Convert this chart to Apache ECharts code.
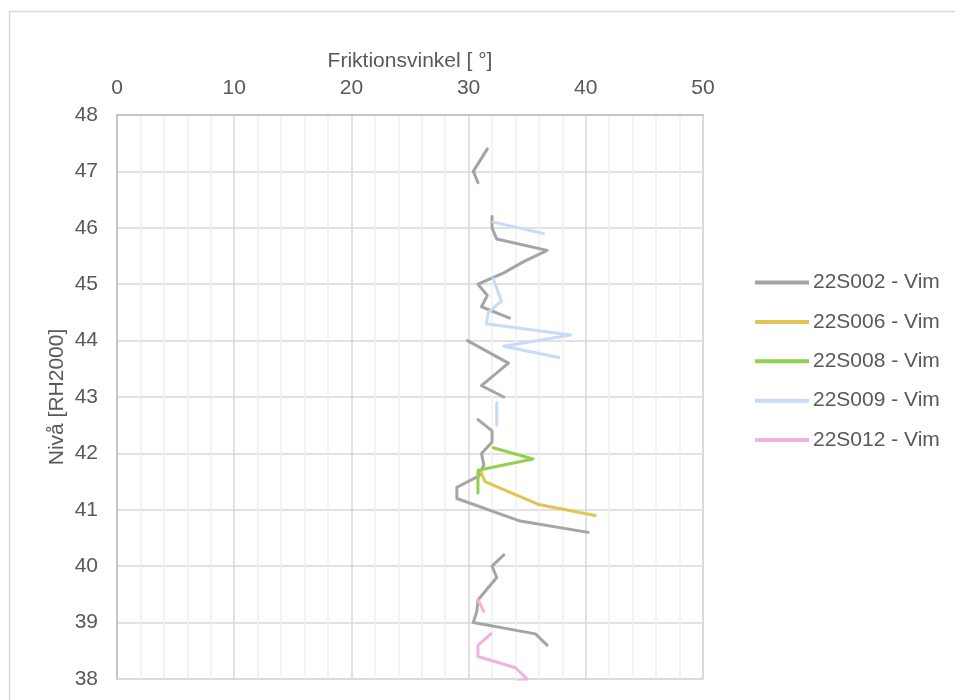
<!DOCTYPE html>
<html>
<head>
<meta charset="utf-8">
<style>
  html, body { margin: 0; padding: 0; background: #ffffff; }
  #chart { width: 955px; height: 700px; }
</style>
<script src="https://cdn.jsdelivr.net/npm/echarts@6/dist/echarts.min.js"></script>
</head>
<body>
<div id="chart"></div>
<script>
// Friction angle profiles versus level. null marks a break in a profile.
const xTicks = [0, 10, 20, 30, 40, 50];
const yTicks = [38, 39, 40, 41, 42, 43, 44, 45, 46, 47, 48];

const seriesNames = ['22S002 - Vim', '22S006 - Vim', '22S008 - Vim', '22S009 - Vim', '22S012 - Vim'];
const seriesColors = ['#a5a5a5', '#e2c452', '#92d050', '#c9dbfa', '#f3b2de'];

// 22S002
const level002 = [47.4, 47.0, 46.8, null,
  46.2, 46.0, 45.8, 45.6, 45.4, 45.2, 45.0, 44.8, 44.6, 44.4, null,
  44.0, 43.6, 43.2, 43.0, null,
  42.6, 42.4, 42.2, 42.0, 41.8, 41.6, 41.4, 41.2, 40.8, 40.6, null,
  40.2, 40.0, 39.8, 39.4, 39.2, 39.0, 38.8, 38.6];
const angle002 = [31.6, 30.4, 30.8, null,
  32.0, 32.0, 32.4, 36.7, 34.7, 33.0, 30.8, 31.6, 31.1, 33.5, null,
  29.9, 33.4, 31.1, 33.0, null,
  30.8, 32.0, 32.0, 31.1, 31.3, 30.9, 29.0, 29.0, 34.4, 40.2, null,
  33.0, 32.0, 32.4, 30.8, 30.7, 30.4, 35.7, 36.7];

// 22S006
const level006 = [41.7, 41.5, 41.1, 40.9];
const angle006 = [31.0, 31.4, 35.9, 40.8];

// 22S008
const level008 = [42.1, 41.9, 41.7, 41.3];
const angle008 = [32.1, 35.5, 30.8, 30.8];

// 22S009
const level009 = [46.1, 45.9, null,
  45.1, 44.7, 44.5, 44.3, 44.1, 43.9, 43.7, null,
  42.9, 42.5];
const angle009 = [32.1, 36.4, null,
  32.1, 32.8, 31.7, 31.5, 38.7, 33.0, 37.7, null,
  32.4, 32.4];

// 22S012
const level012 = [39.4, 39.2, null,
  38.8, 38.6, 38.4, 38.2, 38.0, 37.8];
const angle012 = [30.8, 31.3, null,
  31.9, 30.8, 30.8, 34.0, 35.0, 31.2];

const levels = [level002, level006, level008, level009, level012];
const angles = [angle002, angle006, angle008, angle009, angle012];

function pairs(xs, ys) {
  return xs.map((x, i) => (x === null || ys[i] === null) ? ['-', '-'] : [x, ys[i]]);
}

const FONT = 'Arial, "Liberation Sans", sans-serif';
const TEXT = '#595959';

const chart = echarts.init(document.getElementById('chart'), null, { renderer: 'canvas' });

chart.setOption({
  animation: false,
  backgroundColor: '#ffffff',
  textStyle: { fontFamily: FONT, color: TEXT },
  graphic: [{
    type: 'rect',
    shape: { x: 9.5, y: 11.5, width: 1000, height: 1000 },
    style: { fill: 'none', stroke: '#d9d9d9', lineWidth: 1.5 },
    silent: true,
    z: -1
  }],
  grid: {
    left: 117, top: 115, right: 252, bottom: 21,
    show: true, borderColor: '#d9d9d9', borderWidth: 1.5,
    containLabel: false
  },
  legend: {
    orient: 'vertical',
    left: 755, top: 272,
    padding: 0,
    itemWidth: 54, itemHeight: 4, itemGap: 18.4,
    icon: 'rect',
    data: seriesNames,
    textStyle: { fontFamily: FONT, fontSize: 21, color: TEXT, padding: [0, 0, 0, -1] }
  },
  xAxis: {
    type: 'value',
    position: 'top',
    min: xTicks[0], max: xTicks[xTicks.length - 1], interval: 10,
    name: 'Friktionsvinkel [ °]',
    nameLocation: 'middle',
    nameGap: 43,
    nameTextStyle: { fontFamily: FONT, fontSize: 21, color: TEXT },
    axisLine: { show: true, lineStyle: { color: '#bfbfbf', width: 1.5 } },
    axisTick: { show: false },
    axisLabel: { fontFamily: FONT, fontSize: 21, color: TEXT, margin: 16 },
    splitLine: { show: true, lineStyle: { color: '#d9d9d9', width: 1.5 } },
    minorTick: { show: false, splitNumber: 5 },
    minorSplitLine: { show: true, lineStyle: { color: '#f0f0f0', width: 1.5 } }
  },
  yAxis: {
    type: 'value',
    min: yTicks[0], max: yTicks[yTicks.length - 1], interval: 1,
    name: 'Nivå [RH2000]',
    nameLocation: 'middle',
    nameGap: 49,
    nameMoveOverlap: false,
    nameTextStyle: { fontFamily: FONT, fontSize: 21, color: TEXT },
    axisLine: { show: true, lineStyle: { color: '#bfbfbf', width: 1.5 } },
    axisTick: { show: false },
    axisLabel: { fontFamily: FONT, fontSize: 21, color: TEXT, margin: 19 },
    splitLine: { show: true, lineStyle: { color: '#d9d9d9', width: 1.5 } }
  },
  series: seriesNames.map((name, i) => ({
    name: name,
    type: 'line',
    data: pairs(angles[i], levels[i]),
    showSymbol: false,
    symbol: 'none',
    connectNulls: false,
    clip: true,
    color: seriesColors[i],
    lineStyle: { color: seriesColors[i], width: 3, join: 'round', cap: 'round' }
  }))
});
</script>
</body>
</html>
